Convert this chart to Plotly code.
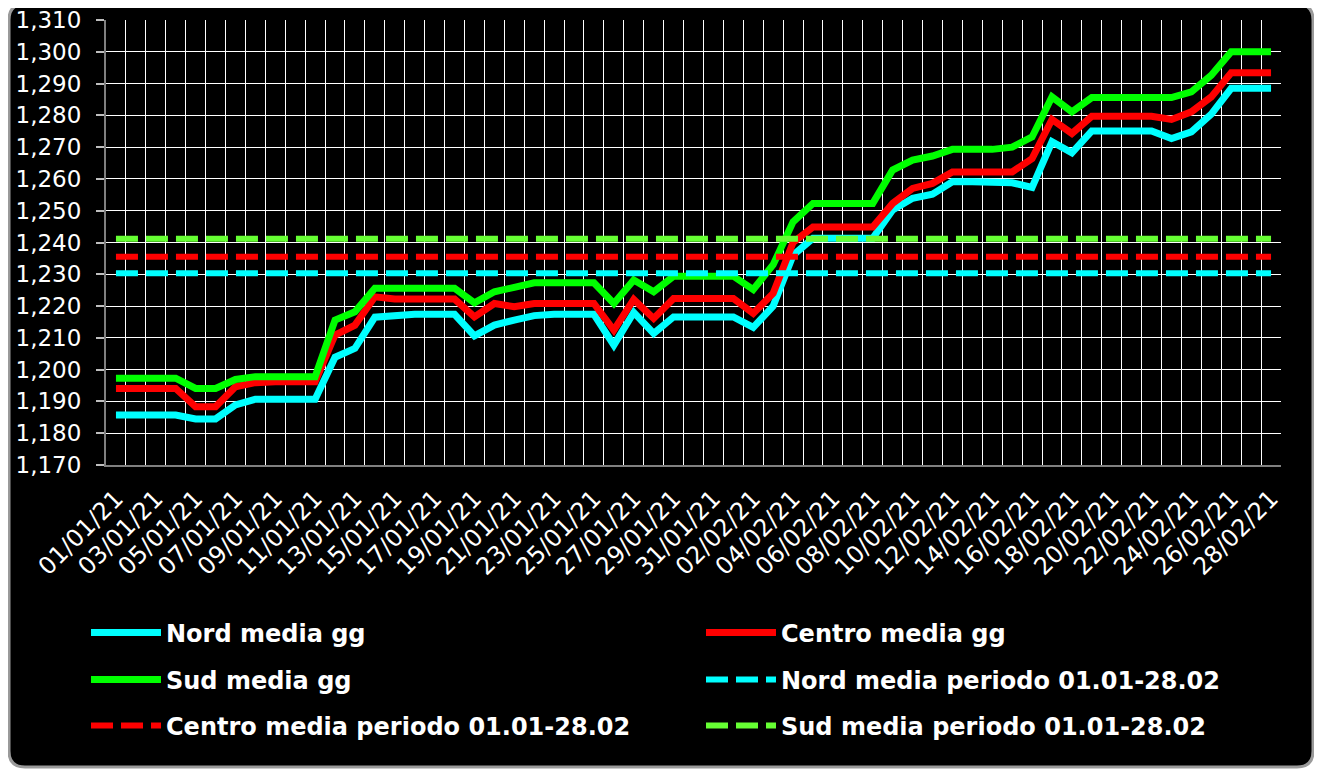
import plotly.graph_objects as go

# ---- data ----
dates = ([f"{d:02d}/01/21" for d in range(1, 32)] +
         [f"{d:02d}/02/21" for d in range(1, 29)])

nord = [1.1857, 1.1857, 1.1857, 1.1857, 1.1845, 1.1845, 1.1889, 1.1907, 1.1907, 1.1907,
        1.1907, 1.2039, 1.2067, 1.2165, 1.2172, 1.2174, 1.2174, 1.2174, 1.2106, 1.2140,
        1.2156, 1.2170, 1.2174, 1.2174, 1.2174, 1.2077, 1.2180, 1.2114, 1.2166, 1.2166,
        1.2166, 1.2166, 1.2133, 1.2200, 1.2360, 1.2413, 1.2413, 1.2413, 1.2413, 1.2502,
        1.2539, 1.2552, 1.2591, 1.2591, 1.2591, 1.2588, 1.2573, 1.2717, 1.2682, 1.2751,
        1.2751, 1.2751, 1.2751, 1.2727, 1.2748, 1.2804, 1.2885, 1.2885, 1.2885]

centro = [1.1941, 1.1941, 1.1941, 1.1941, 1.1883, 1.1883, 1.1946, 1.1959, 1.1962, 1.1962,
          1.1962, 1.2109, 1.2140, 1.2229, 1.2222, 1.2222, 1.2222, 1.2222, 1.2166, 1.2208,
          1.2198, 1.2208, 1.2208, 1.2208, 1.2208, 1.2124, 1.2221, 1.2161, 1.2224, 1.2224,
          1.2224, 1.2224, 1.2177, 1.2240, 1.2400, 1.2449, 1.2449, 1.2449, 1.2449, 1.2523,
          1.2570, 1.2586, 1.2622, 1.2622, 1.2622, 1.2622, 1.2664, 1.2787, 1.2743, 1.2797,
          1.2797, 1.2797, 1.2797, 1.2787, 1.2811, 1.2858, 1.2934, 1.2934, 1.2934]

sud = [1.1973, 1.1973, 1.1973, 1.1973, 1.1941, 1.1941, 1.1969, 1.1978, 1.1978, 1.1978,
       1.1978, 1.2156, 1.2182, 1.2256, 1.2256, 1.2256, 1.2256, 1.2256, 1.2210, 1.2245,
       1.2259, 1.2273, 1.2273, 1.2273, 1.2273, 1.2208, 1.2282, 1.2245, 1.2294, 1.2294,
       1.2294, 1.2294, 1.2252, 1.2330, 1.2465, 1.2523, 1.2523, 1.2523, 1.2523, 1.2628,
       1.2659, 1.2672, 1.2693, 1.2693, 1.2693, 1.2700, 1.2732, 1.2858, 1.2811, 1.2856,
       1.2856, 1.2856, 1.2856, 1.2856, 1.2874, 1.2926, 1.3000, 1.3000, 1.3000]

nord_media_periodo = 1.2303
centro_media_periodo = 1.2355
sud_media_periodo = 1.2412

series_names = ["Nord media gg", "Centro media gg", "Sud media gg",
                "Nord media periodo 01.01-28.02", "Centro media periodo 01.01-28.02",
                "Sud media periodo 01.01-28.02"]

y_min, y_max, y_step = 1.170, 1.310, 0.010

# ---- figure ----
idx = list(range(len(dates)))
n = len(dates)

OFF = 8                      # page body margin of the html page
W, H = 1322 - OFF, 772 - OFF
ML, MT = 106 - OFF, 20 - OFF
MR = W - (1281 - OFF)
MB = H - (465 - OFF)
PW, PH = W - ML - MR, H - MT - MB


def px_x(p):
    """screen pixel (reference) -> paper x"""
    return (p - OFF - ML) / PW


def px_y(p):
    """screen pixel (reference) -> paper y"""
    return (H - MB - (p - OFF)) / PH


fig = go.Figure()

daily = [(nord, "#00FFFF"), (centro, "#FF0000"), (sud, "#00FF00")]
legends = ["legend", "legend", "legend2"]
for (vals, col), name, lg in zip(daily, series_names[:3], legends):
    fig.add_trace(go.Scatter(x=idx, y=vals, mode="lines", name=name, legend=lg,
                             line=dict(color=col, width=7)))

periods = [(nord_media_periodo, "#00FFFF", "legend2"),
           (centro_media_periodo, "#FF0000", "legend3"),
           (sud_media_periodo, "#66FF33", "legend3")]
for (val, col, lg), name in zip(periods, series_names[3:]):
    fig.add_trace(go.Scatter(x=idx, y=[val] * n, mode="lines", name=name, legend=lg,
                             line=dict(color=col, width=6, dash="22px,8px")))

n_ticks = int(round((y_max - y_min) / y_step))
y_ticks = [round(y_min + i * y_step, 3) for i in range(n_ticks + 1)]
boundaries = [i - 0.5 for i in range(n)]

legend_common = dict(orientation="h", xref="paper", yref="paper",
                     x=px_x(86), xanchor="left", yanchor="middle",
                     entrywidth=530, entrywidthmode="pixels", itemwidth=70,
                     bgcolor="rgba(0,0,0,0)", borderwidth=0,
                     font=dict(family="DejaVu Sans", size=24, color="white", weight="bold"))

# rounded black frame (paper coordinates)
x0, x1 = px_x(9), px_x(1313)
y1, y0 = px_y(4), px_y(767)
rx, ry = 16 / PW, 16 / PH
frame = (f"M{x0+rx},{y1} L{x1-rx},{y1} Q{x1},{y1} {x1},{y1-ry} "
         f"L{x1},{y0+ry} Q{x1},{y0} {x1-rx},{y0} L{x0+rx},{y0} "
         f"Q{x0},{y0} {x0},{y0+ry} L{x0},{y1-ry} Q{x0},{y1} {x0+rx},{y1} Z")

fig.update_layout(
    width=W, height=H,
    margin=dict(l=ML, r=MR, t=MT, b=MB, pad=0, autoexpand=False),
    paper_bgcolor="white",
    plot_bgcolor="rgba(0,0,0,0)",
    separators=", ",
    font=dict(family="DejaVu Sans", color="white"),
    shapes=[dict(type="path", path=frame, xref="paper", yref="paper",
                 fillcolor="black", line=dict(color="#9a9a9a", width=3), layer="below")],
    xaxis=dict(range=[-0.5, n - 0.5], tickmode="array", automargin=False,
               tickvals=idx[::2], ticktext=dates[::2], tickangle=-45,
               tickfont=dict(family="DejaVu Sans", size=24, color="white"),
               ticks="", showgrid=False, zeroline=False, ticklabeloverflow="allow",
               showline=True, linecolor="#808080", linewidth=2,
               minor=dict(tickmode="array", tickvals=boundaries, showgrid=True,
                          gridcolor="white", gridwidth=1, ticks=""),
               ticklabelstandoff=8),
    xaxis2=dict(overlaying="x", anchor="y", side="bottom", range=[-0.5, n - 0.5],
                automargin=False,
                tickmode="array", tickvals=boundaries[::2], ticks="outside",
                ticklen=9, tickwidth=2, tickcolor="#808080",
                showticklabels=False, showgrid=False, zeroline=False, showline=False),
    yaxis=dict(range=[y_min, y_max], tickmode="array", tickvals=y_ticks, automargin=False,
               tickformat=".3f", ticks="outside", ticklen=8, tickwidth=2,
               tickcolor="#bfbfbf", showgrid=False, zeroline=False,
               showline=True, linecolor="#808080", linewidth=2,
               tickfont=dict(family="DejaVu Sans", size=23, color="white"),
               ticklabelstandoff=10, ticklabeloverflow="allow",
               minor=dict(tickmode="array", tickvals=y_ticks[:-1], showgrid=True,
                          gridcolor="white", gridwidth=1, ticks="")),
    legend=dict(legend_common, y=px_y(633)),
    legend2=dict(legend_common, y=px_y(680)),
    legend3=dict(legend_common, y=px_y(726)),
)

fig.write_html("out.html")
